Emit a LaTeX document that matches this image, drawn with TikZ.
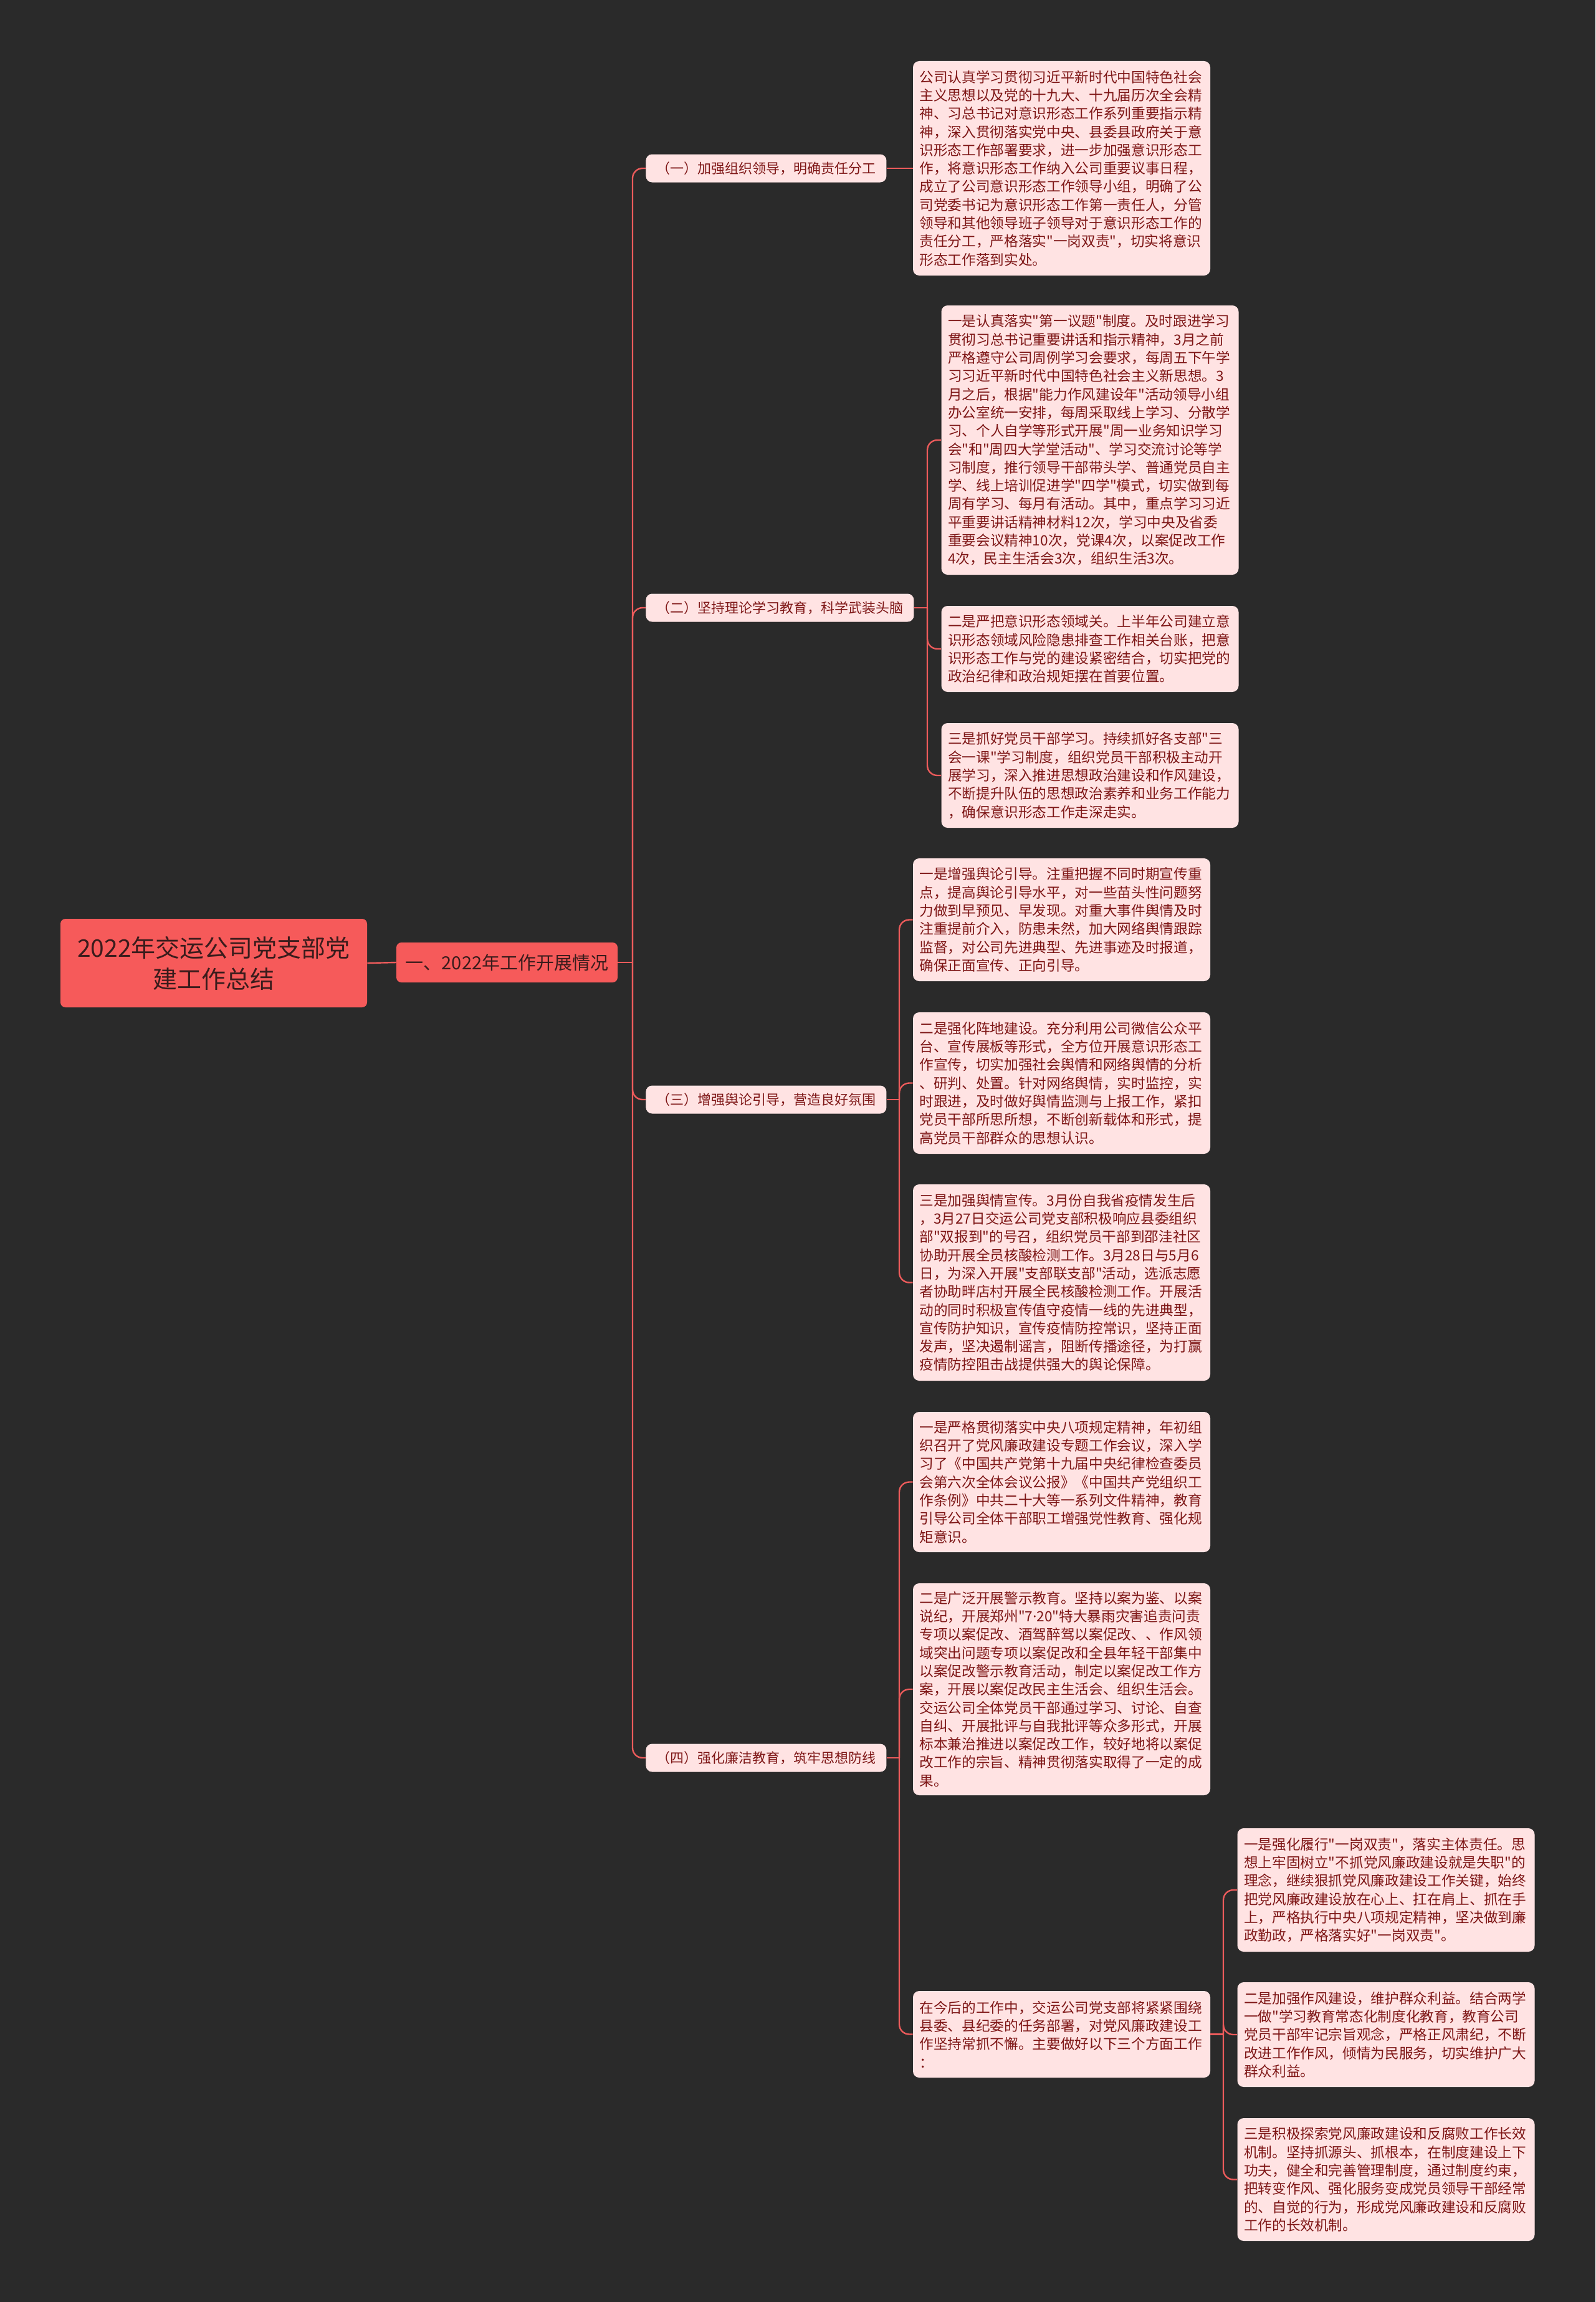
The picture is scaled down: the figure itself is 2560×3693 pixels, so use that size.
\documentclass[tikz,border=0pt]{standalone}
\usepackage{fontspec}
\setmainfont{Noto Sans CJK SC}[Ligatures=TeXOff]
\newfontfamily\latinf{Noto Sans}[Ligatures=TeXOff]
\newcommand{\mdot}{{\latinf ·}}
\definecolor{bgc}{HTML}{2A2A2A}
\definecolor{boxfill}{HTML}{FFE3E3}
\definecolor{boxtext}{HTML}{7E1616}
\definecolor{rootfill}{HTML}{F65A5A}
\definecolor{roottext}{HTML}{3A1C1C}
\definecolor{linec}{HTML}{EC5B5B}
\tikzset{
  conn/.style={draw=linec, line width=1.2pt},
  elbow/.style={draw=linec, line width=1.2pt, rounded corners=8pt},
  textbox/.style={fill=boxfill, text=boxtext, rounded corners=5pt, align=left,
    text width=228pt, inner xsep=5.25pt, inner ysep=3pt,
    font=\fontsize{11.33pt}{14.65pt}\selectfont, anchor=center},
  branch/.style={fill=boxfill, text=boxtext, rounded corners=5pt, minimum height=22.5pt,
    inner xsep=8.5pt, inner ysep=2pt, font=\fontsize{11pt}{13pt}\selectfont, anchor=west},
  rootbox/.style={fill=rootfill, text=roottext, rounded corners=4pt, align=center,
    minimum width=246pt, minimum height=71pt, font=\fontsize{19.5pt}{25pt}\selectfont},
  midbox/.style={fill=rootfill, text=roottext, rounded corners=4pt,
    minimum width=177.5pt, minimum height=32pt, font=\fontsize{14.5pt}{17pt}\selectfont},
}
\begin{document}
\begin{tikzpicture}[x=0.5pt,y=-0.5pt]
\fill[bgc] (0,0) rectangle (2560,3693);
\useasboundingbox (0,0) rectangle (2560,3693);

% root and level 1
\node[rootbox] (root) at (343,1545) {2022年交运公司党支部党\\建工作总结};
\node[midbox] (mid) at (813.5,1544) {一、2022年工作开展情况};

% level 2 branches
\node[branch] (b1) at (1036,270) {（一）加强组织领导，明确责任分工};
\node[branch] (b2) at (1036,975) {（二）坚持理论学习教育，科学武装头脑};
\node[branch] (b3) at (1036,1764) {（三）增强舆论引导，营造良好氛围};
\node[branch] (b4) at (1036,2820) {（四）强化廉洁教育，筑牢思想防线};

% text boxes
\node[textbox, minimum height=172pt] (t1) at (1703.5,270) {公司认真学习贯彻习近平新时代中国特色社会\\主义思想以及党的十九大、十九届历次全会精\\神、习总书记对意识形态工作系列重要指示精\\神，深入贯彻落实党中央、县委县政府关于意\\识形态工作部署要求，进一步加强意识形态工\\作，将意识形态工作纳入公司重要议事日程，\\成立了公司意识形态工作领导小组，明确了公\\司党委书记为意识形态工作第一责任人，分管\\领导和其他领导班子领导对于意识形态工作的\\责任分工，严格落实"一岗双责"，切实将意识\\形态工作落到实处。};

\node[textbox, minimum height=216pt] (t2a) at (1749,706) {一是认真落实"第一议题"制度。及时跟进学习\\贯彻习总书记重要讲话和指示精神，3月之前\\严格遵守公司周例学习会要求，每周五下午学\\习习近平新时代中国特色社会主义新思想。3\\月之后，根据"能力作风建设年"活动领导小组\\办公室统一安排，每周采取线上学习、分散学\\习、个人自学等形式开展"周一业务知识学习\\会"和"周四大学堂活动"、学习交流讨论等学\\习制度，推行领导干部带头学、普通党员自主\\学、线上培训促进学"四学"模式，切实做到每\\周有学习、每月有活动。其中，重点学习习近\\平重要讲话精神材料12次，学习中央及省委\\重要会议精神10次，党课4次，以案促改工作\\4次，民主生活会3次，组织生活3次。};

\node[textbox, minimum height=69pt] (t2b) at (1749,1041) {二是严把意识形态领域关。上半年公司建立意\\识形态领域风险隐患排查工作相关台账，把意\\识形态工作与党的建设紧密结合，切实把党的\\政治纪律和政治规矩摆在首要位置。};

\node[textbox, minimum height=84pt] (t2c) at (1749,1244) {三是抓好党员干部学习。持续抓好各支部"三\\会一课"学习制度，组织党员干部积极主动开\\展学习，深入推进思想政治建设和作风建设，\\不断提升队伍的思想政治素养和业务工作能力\\，确保意识形态工作走深走实。};

\node[textbox, minimum height=98.5pt] (t3a) at (1703.5,1475.5) {一是增强舆论引导。注重把握不同时期宣传重\\点，提高舆论引导水平，对一些苗头性问题努\\力做到早预见、早发现。对重大事件舆情及时\\注重提前介入，防患未然，加大网络舆情跟踪\\监督，对公司先进典型、先进事迹及时报道，\\确保正面宣传、正向引导。};

\node[textbox, minimum height=113.5pt] (t3b) at (1703.5,1737.5) {二是强化阵地建设。充分利用公司微信公众平\\台、宣传展板等形式，全方位开展意识形态工\\作宣传，切实加强社会舆情和网络舆情的分析\\、研判、处置。针对网络舆情，实时监控，实\\时跟进，及时做好舆情监测与上报工作，紧扣\\党员干部所思所想，不断创新载体和形式，提\\高党员干部群众的思想认识。};

\node[textbox, minimum height=157.5pt] (t3c) at (1703.5,2057.5) {三是加强舆情宣传。3月份自我省疫情发生后\\，3月27日交运公司党支部积极响应县委组织\\部"双报到"的号召，组织党员干部到邵洼社区\\协助开展全员核酸检测工作。3月28日与5月6\\日，为深入开展"支部联支部"活动，选派志愿\\者协助畔店村开展全民核酸检测工作。开展活\\动的同时积极宣传值守疫情一线的先进典型，\\宣传防护知识，宣传疫情防控常识，坚持正面\\发声，坚决遏制谣言，阻断传播途径，为打赢\\疫情防控阻击战提供强大的舆论保障。};

\node[textbox, minimum height=112.5pt] (t4a) at (1703.5,2377.5) {一是严格贯彻落实中央八项规定精神，年初组\\织召开了党风廉政建设专题工作会议，深入学\\习了《中国共产党第十九届中央纪律检查委员\\会第六次全体会议公报》《中国共产党组织工\\作条例》中共二十大等一系列文件精神，教育\\引导公司全体干部职工增强党性教育、强化规\\矩意识。};

\node[textbox, minimum height=170pt] (t4b) at (1703.5,2710) {二是广泛开展警示教育。坚持以案为鉴、以案\\说纪，开展郑州"7\mdot 20"特大暴雨灾害追责问责\\专项以案促改、酒驾醉驾以案促改、、作风领\\域突出问题专项以案促改和全县年轻干部集中\\以案促改警示教育活动，制定以案促改工作方\\案，开展以案促改民主生活会、组织生活会。\\交运公司全体党员干部通过学习、讨论、自查\\自纠、开展批评与自我批评等众多形式，开展\\标本兼治推进以案促改工作，较好地将以案促\\改工作的宗旨、精神贯彻落实取得了一定的成\\果。};

\node[textbox, minimum height=69.5pt] (t4c) at (1703.5,3263.5) {在今后的工作中，交运公司党支部将紧紧围绕\\县委、县纪委的任务部署，对党风廉政建设工\\作坚持常抓不懈。主要做好以下三个方面工作\\：};

\node[textbox, minimum height=99pt] (t4c1) at (2224,3032) {一是强化履行"一岗双责"，落实主体责任。思\\想上牢固树立"不抓党风廉政建设就是失职"的\\理念，继续狠抓党风廉政建设工作关键，始终\\把党风廉政建设放在心上、扛在肩上、抓在手\\上，严格执行中央八项规定精神，坚决做到廉\\政勤政，严格落实好"一岗双责"。};

\node[textbox, minimum height=84pt] (t4c2) at (2224,3264) {二是加强作风建设，维护群众利益。结合两学\\一做"学习教育常态化制度化教育，教育公司\\党员干部牢记宗旨观念，严格正风肃纪，不断\\改进工作作风，倾情为民服务，切实维护广大\\群众利益。};

\node[textbox, minimum height=98.5pt] (t4c3) at (2224,3496.5) {三是积极探索党风廉政建设和反腐败工作长效\\机制。坚持抓源头、抓根本，在制度建设上下\\功夫，健全和完善管理制度，通过制度约束，\\把转变作风、强化服务变成党员领导干部经常\\的、自觉的行为，形成党风廉政建设和反腐败\\工作的长效机制。};

% spine points
\coordinate (s0) at (1015,1544);
\coordinate (s2) at (1488,975);
\coordinate (s3) at (1443,1764);
\coordinate (s4) at (1443,2820);
\coordinate (s5) at (1963,3263.5);

% connectors
\draw[conn] (root.east) -- (mid.west);
\draw[conn] (mid.east) -- (s0);
\foreach \c in {b1,b2,b3,b4} \draw[elbow] (s0) |- (\c.west);
\draw[conn] (b1.east) -- (t1.west);
\draw[conn] (b2.east) -- (s2);
\foreach \c in {t2a,t2b,t2c} \draw[elbow] (s2) |- (\c.west);
\draw[conn] (b3.east) -- (s3);
\foreach \c in {t3a,t3b,t3c} \draw[elbow] (s3) |- (\c.west);
\draw[conn] (b4.east) -- (s4);
\foreach \c in {t4a,t4b,t4c} \draw[elbow] (s4) |- (\c.west);
\draw[conn] (t4c.east) -- (s5);
\foreach \c in {t4c1,t4c2,t4c3} \draw[elbow] (s5) |- (\c.west);
\end{tikzpicture}
\end{document}
